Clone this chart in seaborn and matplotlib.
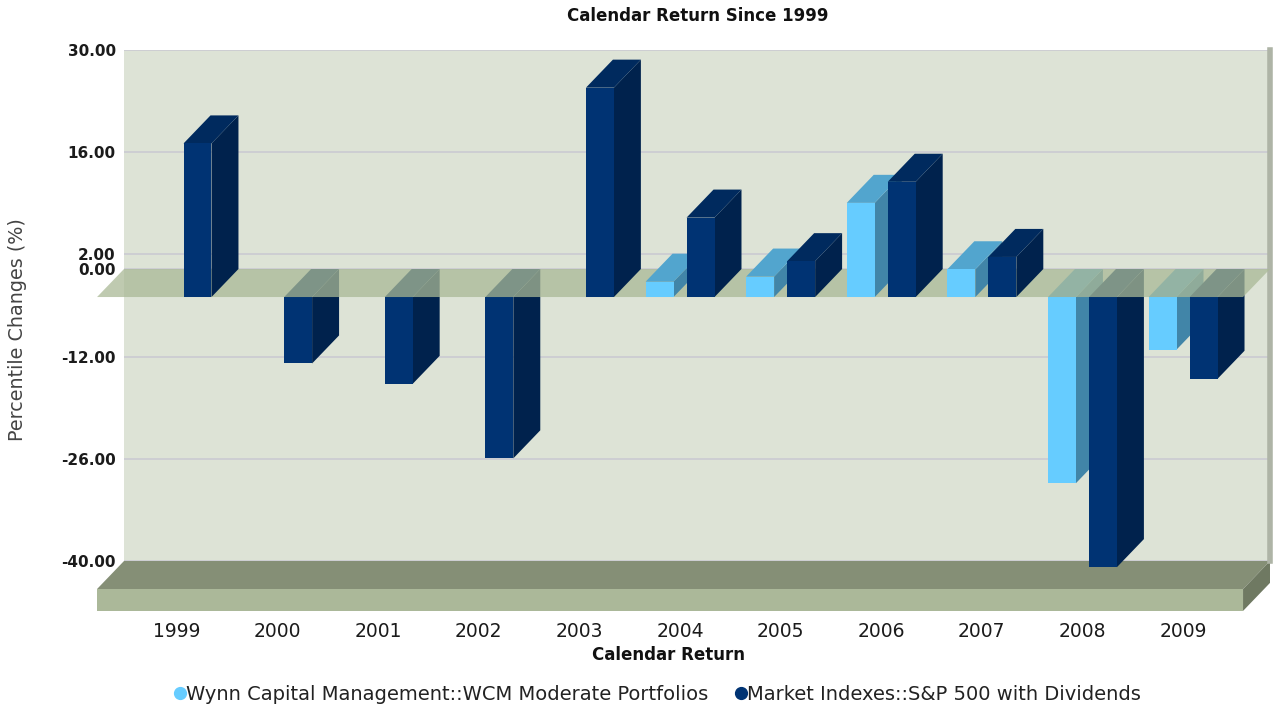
import numpy as np
import pandas as pd
import seaborn as sns
import matplotlib.pyplot as plt
from matplotlib.colors import to_rgba
from matplotlib.lines import Line2D
from matplotlib.patches import Polygon, Rectangle

# Chart data
years = ['1999', '2000', '2001', '2002', '2003', '2004', '2005', '2006', '2007', '2008', '2009']
wcm_returns = [np.nan, np.nan, np.nan, np.nan, np.nan, 2.1, 2.8, 12.9, 3.8, -25.5, -7.2]
sp500_returns = [21.04, -9.10, -11.89, -22.10, 28.68, 10.88, 4.91, 15.79, 5.49, -37.00, -11.2]
series_names = ['Wynn Capital Management::WCM Moderate Portfolios',
                'Market Indexes::S&P 500 with Dividends']
y_ticks = [30, 16, 2, 0, -12, -26, -40]

# Colours for the faces of each series: front, side, top
face_colors = {
    series_names[0]: ('#66CCFF', '#4185A8', '#52A5CE'),
    series_names[1]: ('#003373', '#00224D', '#002A5E'),
}
wall_color = '#DDE3D6'
plane_color = (170 / 255, 185 / 255, 150 / 255, 0.75)
floor_top, floor_front, floor_side = '#858F76', '#ABB899', '#6F7962'

# 3D depth of the chart, in data units (x: categories, y: percent)
DX = 0.268
DY = 3.84
FLOOR_THICK = 3.0
X_LIM = (-0.795, 10.596)
Y_LIM = (-40, 30)

df = pd.DataFrame({
    'year': years * 2,
    'series': [series_names[0]] * len(years) + [series_names[1]] * len(years),
    'value': wcm_returns + sp500_returns,
})

plt.rcParams['font.family'] = ['DejaVu Sans']
fig = plt.figure(figsize=(12.75, 7.09), dpi=100)
ax = fig.add_axes([124 / 1275, 148 / 709, 1146 / 1275, 511 / 709])

palette = {name: cols[0] for name, cols in face_colors.items()}
sns.barplot(data=df, x='year', y='value', hue='series', hue_order=series_names,
            palette=palette, saturation=1, width=0.815, gap=0.318,
            errorbar=None, legend=False, linewidth=0, ax=ax)

ax.set_xlim(*X_LIM)
ax.set_ylim(*Y_LIM)
ax.set_facecolor(wall_color)

# Turn each flat bar into a box: move the face to the front and add side/top
for p in list(ax.patches):
    x0, w, v = p.get_x(), p.get_width(), p.get_height()
    if not np.isfinite(v) or v == 0:
        p.remove()
        continue
    name = None
    for nm, cols in face_colors.items():
        if np.allclose(to_rgba(cols[0]), p.get_facecolor(), atol=0.01):
            name = nm
    _, side_c, top_c = face_colors[name]
    z = (10 if v > 0 else 5) + 0.01 * x0
    p.set_x(x0 - DX)
    p.set_y(-DY)
    p.set_clip_on(False)
    p.set_zorder(z + 0.005)
    side = Polygon([(x0 + w - DX, -DY), (x0 + w, 0), (x0 + w, v), (x0 + w - DX, v - DY)],
                   closed=True, facecolor=side_c, lw=0, zorder=z, clip_on=False)
    ax.add_patch(side)
    cap_y = v if v > 0 else 0
    top = Polygon([(x0 - DX, cap_y - DY), (x0 + w - DX, cap_y - DY), (x0 + w, cap_y), (x0, cap_y)],
                  closed=True, facecolor=top_c, lw=0, zorder=z, clip_on=False)
    ax.add_patch(top)

# Zero plane, semi transparent over the negative bars
xl, xr = X_LIM
ax.add_patch(Polygon([(xl - DX, -DY), (xr - DX, -DY), (xr, 0), (xl, 0)], closed=True,
                     facecolor=plane_color, lw=0, zorder=8, clip_on=False))

# Floor slab
yb = Y_LIM[0]
ax.add_patch(Polygon([(xl - DX, yb - DY), (xr - DX, yb - DY), (xr, yb), (xl, yb)], closed=True,
                     facecolor=floor_top, lw=0, zorder=2, clip_on=False))
ax.add_patch(Rectangle((xl - DX, yb - DY - FLOOR_THICK), xr - xl, FLOOR_THICK,
                       facecolor=floor_front, lw=0, zorder=2, clip_on=False))
ax.add_patch(Polygon([(xr - DX, yb - DY), (xr, yb), (xr, yb - FLOOR_THICK),
                      (xr - DX, yb - DY - FLOOR_THICK)], closed=True,
                     facecolor=floor_side, lw=0, zorder=2, clip_on=False))

# Axes, grid and ticks
ax.set_yticks(y_ticks, labels=[f'{t:.2f}' for t in y_ticks])
ax.set_xticks(np.arange(len(years)) - DX, labels=years)
ax.yaxis.grid(True, color='#CACAD2', lw=1.2)
ax.set_axisbelow(True)
ax.tick_params(axis='y', length=0, pad=6, labelsize=11, labelcolor='#1B1B1B')
ax.tick_params(axis='x', length=0, pad=44, labelsize=13.5, labelcolor='#1B1B1B')
for lbl in ax.get_yticklabels():
    lbl.set_fontweight('bold')
for side_name in ['top', 'left', 'bottom']:
    ax.spines[side_name].set_visible(False)
ax.spines['right'].set_color('#AEB4A6')
ax.spines['right'].set_linewidth(4)
ax.set_xlabel('')
ax.set_ylabel('')

# Titles
fig.text(698 / 1275, 1 - 16 / 709, 'Calendar Return Since 1999', ha='center', va='center',
         fontsize=12, fontweight='bold', color='#111111')
fig.text(669 / 1275, 1 - 655 / 709, 'Calendar Return', ha='center', va='center',
         fontsize=12, fontweight='bold', color='#111111')
fig.text(18 / 1275, 1 - 330 / 709, 'Percentile Changes (%)', ha='center', va='center',
         rotation=90, fontsize=13.8, color='#444444')

# Legend
handles = [Line2D([], [], marker='o', linestyle='', markersize=8.5, color=face_colors[n][0])
           for n in series_names]
fig.legend(handles, series_names, loc='center', bbox_to_anchor=(658 / 1275, 1 - 694 / 709),
           ncol=2, frameon=False, handlelength=0.5, handletextpad=0.1, columnspacing=1.4,
           fontsize=14, labelcolor='#222222')

plt.savefig('out.png', dpi=100)
